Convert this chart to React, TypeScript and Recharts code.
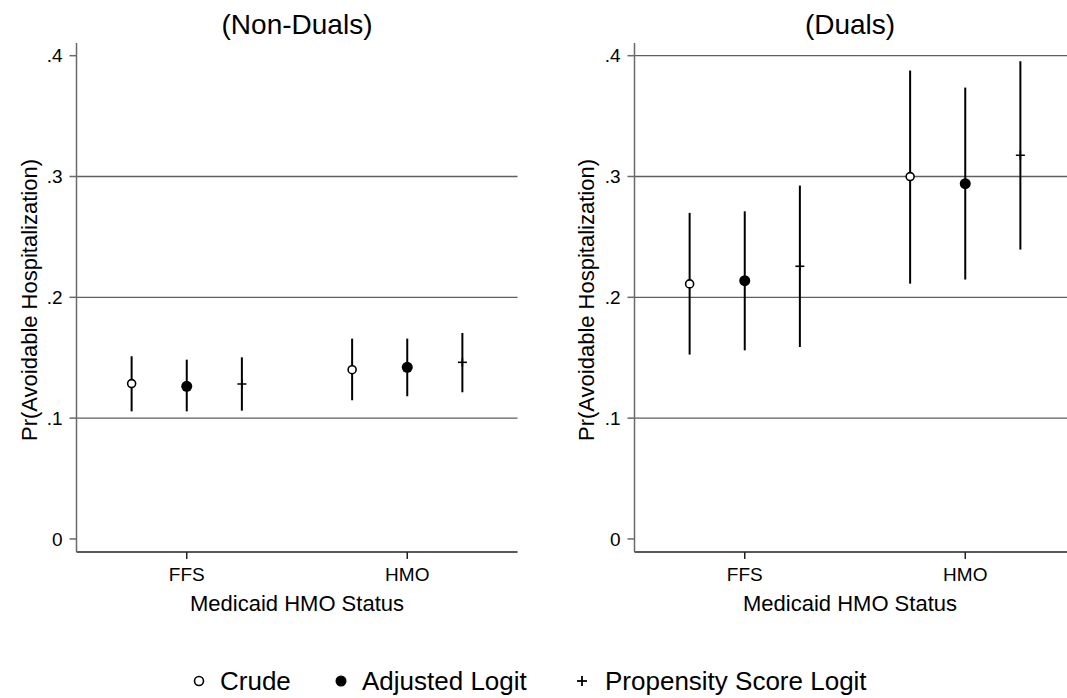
import { ScatterChart, Scatter, XAxis, YAxis, ErrorBar, ReferenceLine } from 'recharts'

const FONT = '"Liberation Sans", Arial, Helvetica, sans-serif'

const CATEGORIES = ['FFS', 'HMO']
const Y_TICKS = [0, 0.1, 0.2, 0.3, 0.4]
const SERIES = ['Crude', 'Adjusted Logit', 'Propensity Score Logit']

// Non-Duals panel: point estimate, lower and upper bound per category
const NON_DUALS_CRUDE = [0.1286, 0.1401]
const NON_DUALS_CRUDE_LO = [0.1056, 0.1148]
const NON_DUALS_CRUDE_HI = [0.1512, 0.1658]
const NON_DUALS_ADJ = [0.1263, 0.1421]
const NON_DUALS_ADJ_LO = [0.1056, 0.1181]
const NON_DUALS_ADJ_HI = [0.1484, 0.1658]
const NON_DUALS_PS = [0.1283, 0.1462]
const NON_DUALS_PS_LO = [0.1062, 0.1214]
const NON_DUALS_PS_HI = [0.1503, 0.1705]
const NON_DUALS_GRID = [0.1, 0.2, 0.3]

// Duals panel
const DUALS_CRUDE = [0.2111, 0.2999]
const DUALS_CRUDE_LO = [0.1526, 0.2113]
const DUALS_CRUDE_HI = [0.2699, 0.3877]
const DUALS_ADJ = [0.2138, 0.2941]
const DUALS_ADJ_LO = [0.1561, 0.2147]
const DUALS_ADJ_HI = [0.2712, 0.3736]
const DUALS_PS = [0.2257, 0.3176]
const DUALS_PS_LO = [0.1589, 0.2395]
const DUALS_PS_HI = [0.2925, 0.3954]
const DUALS_GRID = [0.1, 0.2, 0.3, 0.4]

// dodge of each series around its category (in category units)
const DODGE = [-0.25, 0, 0.25]

function toPoints(est: number[], lo: number[], hi: number[], dodge: number) {
  return est.map((v, i) => ({
    x: i + 1 + dodge,
    y: v,
    err: [v - lo[i], hi[i] - v],
  }))
}

function fmtY(v: number) {
  if (v === 0) return '0'
  return v.toFixed(1).replace(/^0/, '')
}

const OpenCircle = (props: any) => (
  <circle cx={props.cx} cy={props.cy} r={4} fill="#fff" stroke="#000" strokeWidth={1.6} />
)
const FilledCircle = (props: any) => <circle cx={props.cx} cy={props.cy} r={5.5} fill="#000" />
const Plus = (props: any) => (
  <g stroke="#000" strokeWidth={1.6}>
    <line x1={props.cx - 4.5} x2={props.cx + 4.5} y1={props.cy} y2={props.cy} />
    <line x1={props.cx} x2={props.cx} y1={props.cy - 4.5} y2={props.cy + 4.5} />
  </g>
)

const SHAPES = [OpenCircle, FilledCircle, Plus]

interface PanelProps {
  left: number
  series: { x: number; y: number; err: number[] }[][]
  grid: number[]
}

function Panel({ left, series, grid }: PanelProps) {
  return (
    <div style={{ position: 'absolute', left, top: 0 }}>
      <ScatterChart
        width={540}
        height={640}
        margin={{ top: 43, right: 22.5, bottom: 8, left: 16.5 }}
      >
        {grid.map((g) => (
          <ReferenceLine key={g} y={g} stroke="#5f5f5f" strokeWidth={1.3} />
        ))}
        <XAxis
          type="number"
          dataKey="x"
          domain={[0.5, 2.5]}
          ticks={[1, 2]}
          allowDataOverflow
          tickFormatter={(v) => CATEGORIES[Math.round(v) - 1]}
          height={80}
          tickSize={7}
          tickMargin={9}
          stroke="#222"
          strokeWidth={1.5}
          tick={{ fill: '#000', fontSize: 19, fontFamily: FONT }}
        />
        <YAxis
          type="number"
          dataKey="y"
          domain={[-0.0108, 0.4105]}
          ticks={Y_TICKS}
          allowDataOverflow
          tickFormatter={fmtY}
          width={60}
          tickSize={7}
          tickMargin={7}
          stroke="#6a6a6a"
          strokeWidth={1.5}
          tick={{ fill: '#000', fontSize: 19, fontFamily: FONT }}
        />
        {series.map((pts, i) => (
          <Scatter
            key={SERIES[i]}
            name={SERIES[i]}
            data={pts}
            shape={SHAPES[i]}
            isAnimationActive={false}
          >
            <ErrorBar
              dataKey="err"
              direction="y"
              width={0}
              stroke="#000"
              strokeWidth={2}
              isAnimationActive={false}
            />
          </Scatter>
        ))}
      </ScatterChart>
    </div>
  )
}

const textBase: React.CSSProperties = {
  position: 'absolute',
  fontFamily: FONT,
  color: '#000',
  lineHeight: 1,
  whiteSpace: 'nowrap',
  textAlign: 'center',
}

function PanelText({ title, cx, yLabelX }: { title: string; cx: number; yLabelX: number }) {
  return (
    <>
      <div style={{ ...textBase, fontSize: 28, left: cx - 150, width: 300, top: 11 }}>{title}</div>
      <div style={{ ...textBase, fontSize: 22, left: cx - 150, width: 300, top: 593 }}>
        Medicaid HMO Status
      </div>
      <div
        style={{
          ...textBase,
          fontSize: 22,
          left: yLabelX - 200,
          width: 400,
          top: 300 - 11,
          height: 22,
          transform: 'rotate(-90deg)',
        }}
      >
        Pr(Avoidable Hospitalization)
      </div>
    </>
  )
}

const LegendSymbol = ({ i }: { i: number }) => (
  <svg width={16} height={16} style={{ position: 'absolute', left: -8, top: -8 }}>
    {i === 0 && <circle cx={8} cy={8} r={4.5} fill="#fff" stroke="#000" strokeWidth={1.6} />}
    {i === 1 && <circle cx={8} cy={8} r={5.5} fill="#000" />}
    {i === 2 && (
      <g stroke="#000" strokeWidth={1.8}>
        <line x1={3} x2={13} y1={8} y2={8} />
        <line x1={8} x2={8} y1={3} y2={13} />
      </g>
    )}
  </svg>
)

const LEGEND_SYMBOL_X = [199, 341, 582]
const LEGEND_TEXT_X = [220, 362, 605]

export default function App() {
  const nonDuals = [
    toPoints(NON_DUALS_CRUDE, NON_DUALS_CRUDE_LO, NON_DUALS_CRUDE_HI, DODGE[0]),
    toPoints(NON_DUALS_ADJ, NON_DUALS_ADJ_LO, NON_DUALS_ADJ_HI, DODGE[1]),
    toPoints(NON_DUALS_PS, NON_DUALS_PS_LO, NON_DUALS_PS_HI, DODGE[2]),
  ]
  const duals = [
    toPoints(DUALS_CRUDE, DUALS_CRUDE_LO, DUALS_CRUDE_HI, DODGE[0]),
    toPoints(DUALS_ADJ, DUALS_ADJ_LO, DUALS_ADJ_HI, DODGE[1]),
    toPoints(DUALS_PS, DUALS_PS_LO, DUALS_PS_HI, DODGE[2]),
  ]

  return (
    <div
      style={{
        position: 'absolute',
        left: 0,
        top: 0,
        width: 1067,
        height: 698,
        overflow: 'hidden',
        background: '#fff',
      }}
    >
      <Panel left={0} series={nonDuals} grid={NON_DUALS_GRID} />
      <Panel left={557.8} series={duals} grid={DUALS_GRID} />
      <PanelText title="(Non-Duals)" cx={297} yLabelX={29.5} />
      <PanelText title="(Duals)" cx={850} yLabelX={587.3} />

      {SERIES.map((name, i) => (
        <div key={name}>
          <div style={{ position: 'absolute', left: LEGEND_SYMBOL_X[i], top: 681 }}>
            <LegendSymbol i={i} />
          </div>
          <div style={{ ...textBase, textAlign: 'left', fontSize: 26, left: LEGEND_TEXT_X[i], top: 668 }}>
            {name}
          </div>
        </div>
      ))}
    </div>
  )
}
